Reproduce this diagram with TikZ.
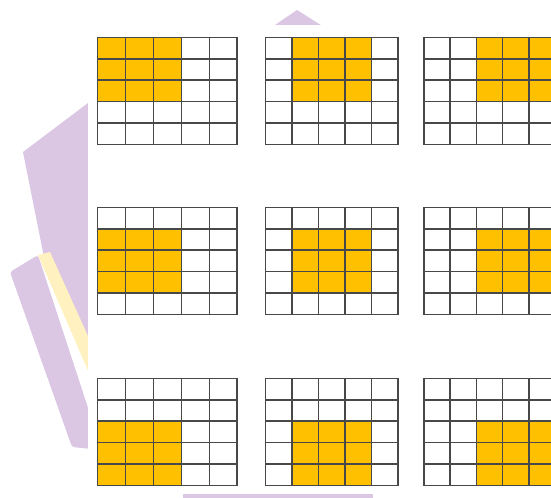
\documentclass[tikz,border=0pt]{standalone}
\usetikzlibrary{calc}
\definecolor{KernelGold}{RGB}{255, 192, 0}
\definecolor{BackLilac}{RGB}{219, 199, 228}
\definecolor{BackCream}{RGB}{255, 242, 192}
\definecolor{GridGray}{RGB}{72, 72, 72}

\begin{document}
\begin{tikzpicture}[x=0.5mm, y=-0.5mm,
            cellline/.style={draw=GridGray, line width=0.75mm, line cap=rect},
            window/.style={fill=KernelGold},
            backdrop/.style={fill=BackLilac}
        ]
            \useasboundingbox (0,0) rectangle (551,498);

            % slide decoration behind the panel
            \fill[backdrop] (23,152) -- (92,100) -- (92,345) -- (45,262) -- cycle;
            \fill[backdrop, rounded corners=4pt] (10,272) -- (38,255) -- (92,420)
                -- (92,449) -- (72,447) -- cycle;
            \fill[BackCream] (38,255) -- (50,252) -- (92,345) -- (92,380) -- cycle;
            \fill[backdrop] (272,27) -- (297,10) -- (324,27) -- cycle;
            \fill[backdrop] (183,492) rectangle (373,500);
            \fill[white] (88,25) rectangle (551,494);

            % 5x5 inputs with the sliding 3x3 window
            \foreach \x/\w [count=\c from 0] in {97.7/27.9, 265.7/26.5, 424/26.2} {
                \foreach \y [count=\r from 0] in {37.3, 207.3, 378.3} {
                    \fill[window] (\x+\c*\w, \y+\r*21.45) rectangle ++(3*\w, 3*21.45);
                    \foreach \i in {0,...,5} {
                        \draw[cellline] (\x+\i*\w, \y) -- ++(0, 5*21.45);
                        \draw[cellline] (\x, \y+\i*21.45) -- ++(5*\w, 0);
                    }
                }
            }
        \end{tikzpicture}
\end{document}
